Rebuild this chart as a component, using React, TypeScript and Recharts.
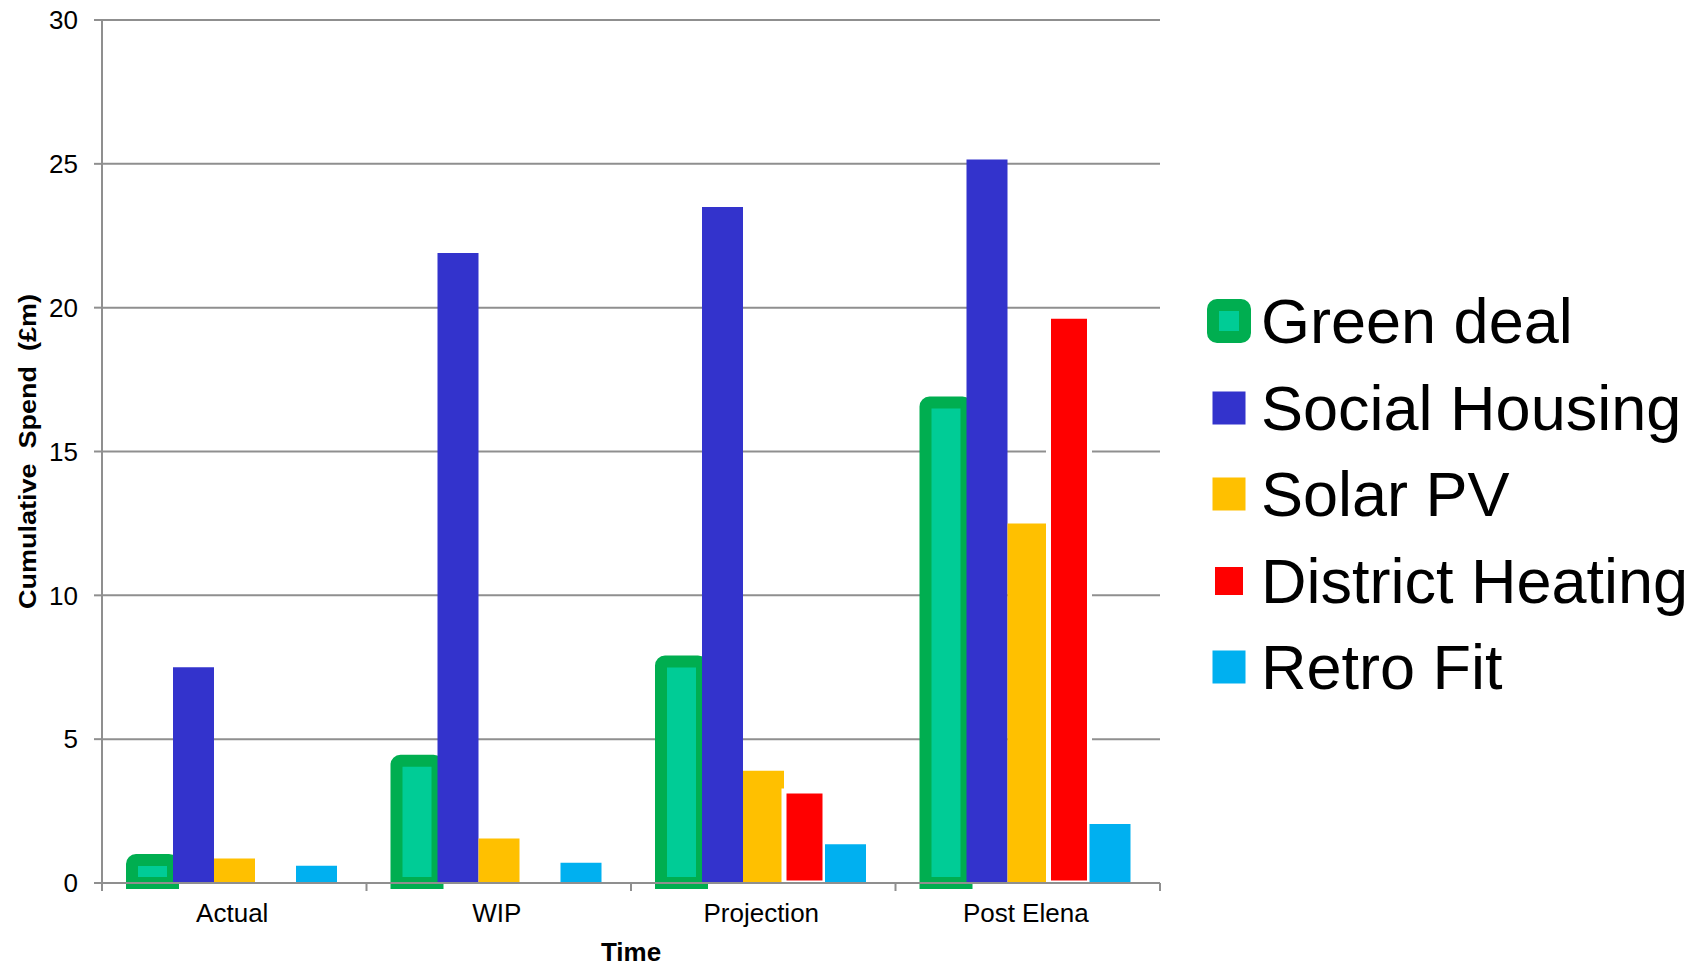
import { BarChart, Bar, XAxis, YAxis, CartesianGrid, Legend } from "recharts";

// cumulative spend (£m) by stage
const categories = ["Actual", "WIP", "Projection", "Post Elena"];
const greenDeal = [0.8, 4.25, 7.7, 16.7];
const socialHousing = [7.5, 21.9, 23.5, 25.15];
const solarPV = [0.85, 1.55, 3.9, 12.5];
const districtHeating = [null, null, 3.2, 19.7];
const retroFit = [0.6, 0.7, 1.35, 2.05];
const yTicks = [0, 5, 10, 15, 20, 25, 30];

const FONT = '"Liberation Sans", Arial, sans-serif';
const GREY = "#8f8f8f";
const W = 1703;
const H = 966;
const MARGIN = { top: 20, right: 543, bottom: 0, left: 0 };
const YAXIS_W = 102;
const XAXIS_H = 83;
const BAND = (W - MARGIN.left - MARGIN.right - YAXIS_W) / categories.length;

const series = [
  { key: "green", name: "Green deal", fill: "#00CC96", stroke: "#00AE50", strokeWidth: 12, radius: [4, 4, 0, 0] },
  { key: "social", name: "Social Housing", fill: "#3333CC", stroke: "none", strokeWidth: 0, radius: 0 },
  { key: "solar", name: "Solar PV", fill: "#FFC000", stroke: "none", strokeWidth: 0, radius: 0 },
  { key: "district", name: "District Heating", fill: "#FF0000", stroke: "#FFFFFF", strokeWidth: 5, radius: 0 },
  { key: "retro", name: "Retro Fit", fill: "#00B0F0", stroke: "none", strokeWidth: 0, radius: 0 },
];

const data = categories.map((name, i) => ({
  name,
  green: greenDeal[i],
  social: socialHousing[i],
  solar: solarPV[i],
  district: districtHeating[i],
  retro: retroFit[i],
}));

function CategoryTick(props: any) {
  const { x, y, payload, index } = props;
  const half = BAND / 2;
  return (
    <g>
      {index === 0 && (
        <line x1={x - half} x2={x - half} y1={y} y2={y + 8} stroke={GREY} strokeWidth={2} />
      )}
      <line x1={x + half} x2={x + half} y1={y} y2={y + 8} stroke={GREY} strokeWidth={2} />
      <text x={x - 2} y={y + 21} dy="0.71em" textAnchor="middle" fontSize={26} fontFamily={FONT} fill="#000">
        {payload.value}
      </text>
    </g>
  );
}

function LegendMarker({ s }: { s: (typeof series)[number] }) {
  if (s.key === "green") {
    return (
      <svg width={44} height={44}>
        <rect x={6} y={6} width={32} height={32} rx={4} fill={s.fill} stroke={s.stroke} strokeWidth={12} />
      </svg>
    );
  }
  return (
    <svg width={44} height={44}>
      <rect x={5.5} y={5.5} width={33} height={33} fill={s.fill} stroke={s.stroke} strokeWidth={s.strokeWidth} />
    </svg>
  );
}

function LegendContent() {
  return (
    <div>
      {series.map((s) => (
        <div key={s.key} style={{ display: "flex", alignItems: "center", height: 86.5 }}>
          <LegendMarker s={s} />
          <span
            style={{
              marginLeft: 10,
              fontFamily: FONT,
              fontSize: 63,
              lineHeight: "86.5px",
              color: "#000",
              whiteSpace: "nowrap",
            }}
          >
            {s.name}
          </span>
        </div>
      ))}
    </div>
  );
}

export default function App() {
  return (
    <div style={{ position: "absolute", left: 0, top: 0, width: W, height: H, background: "#fff" }}>
      <BarChart width={W} height={H} data={data} margin={MARGIN} barCategoryGap={30} barGap={0}>
        <CartesianGrid vertical={false} stroke={GREY} strokeWidth={2} />
        <XAxis
          dataKey="name"
          height={XAXIS_H}
          axisLine={{ stroke: GREY, strokeWidth: 2 }}
          tickLine={false}
          tickSize={0}
          tickMargin={0}
          interval={0}
          tick={<CategoryTick />}
          label={{
            content: (p: any) => {
              const vb = p.viewBox;
              return (
                <text
                  x={vb.x + vb.width / 2}
                  y={vb.y + 69}
                  textAnchor="middle"
                  dominantBaseline="central"
                  fontFamily={FONT}
                  fontSize={26}
                  fontWeight="bold"
                  fill="#000"
                >
                  Time
                </text>
              );
            },
          }}
        />
        <YAxis
          width={YAXIS_W}
          domain={[0, 30]}
          ticks={yTicks}
          interval={0}
          axisLine={{ stroke: GREY, strokeWidth: 2 }}
          tickLine={{ stroke: GREY, strokeWidth: 2 }}
          tickSize={8}
          tickMargin={16}
          tick={{ fontSize: 26, fill: "#000", fontFamily: FONT }}
          label={{
            content: (p: any) => {
              const vb = p.viewBox;
              const cy = vb.y + vb.height / 2;
              return (
                <text
                  x={0}
                  y={0}
                  transform={`translate(27 ${cy}) rotate(-90) scale(1 0.9)`}
                  textAnchor="middle"
                  dominantBaseline="central"
                  fontFamily={FONT}
                  fontSize={27}
                  fontWeight="bold"
                  fill="#000"
                  style={{ whiteSpace: "pre" }}
                >
                  {"Cumulative  Spend  (£m)"}
                </text>
              );
            },
          }}
        />
        <Legend
          layout="vertical"
          align="center"
          verticalAlign="middle"
          wrapperStyle={{ left: 1207, top: 278, width: 496 }}
          content={<LegendContent />}
        />
        {series.map((s) => (
          <Bar
            key={s.key}
            dataKey={s.key}
            name={s.name}
            fill={s.fill}
            stroke={s.stroke}
            strokeWidth={s.strokeWidth}
            radius={s.radius as any}
            isAnimationActive={false}
          />
        ))}
      </BarChart>
    </div>
  );
}
